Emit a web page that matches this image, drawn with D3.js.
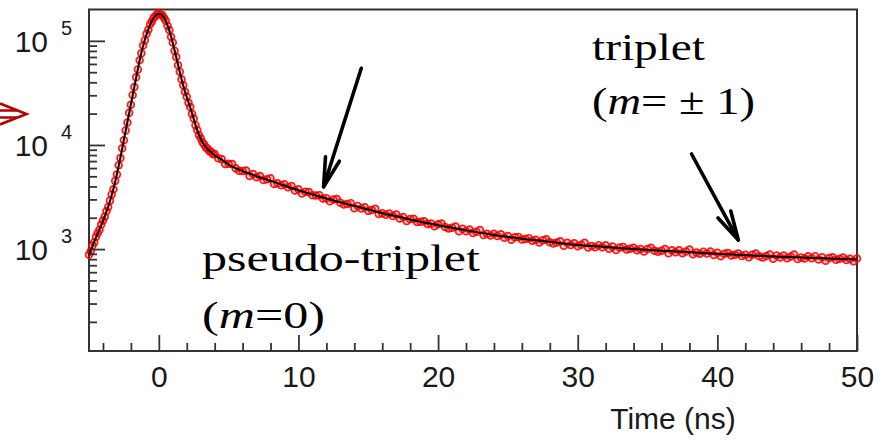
<!DOCTYPE html>
<html><head><meta charset="utf-8">
<script src="https://cdn.jsdelivr.net/npm/d3@7"></script>
<style>body{margin:0;background:#fff}svg{display:block}</style>
</head><body>
<svg id="c" width="884" height="441"></svg>
<script>
// ---------- data ----------
const xMajorTicks = [0, 10, 20, 30, 40, 50];
const xMinorTicks = [-4, -2, 2, 4, 6, 8, 12, 14, 16, 18, 22, 24, 26, 28, 32, 34, 36, 38, 42, 44, 46, 48];
const yMajorTicks = [1e3, 1e4, 1e5];
const yExponents = ["3", "4", "5"];
const yMinorTicks = [200,300,400,500,600,700,800,900,2000,3000,4000,5000,6000,7000,8000,9000,20000,30000,40000,50000,60000,70000,80000,90000];
const xTitle = "Time (ns)";

// fitted curve (black line)
const fitTime = [-5,-4.75,-4.5,-4.25,-4,-3.75,-3.5,-3.25,-3,-2.75,-2.5,-2.25,-2,-1.75,-1.5,-1.25,-1,-0.75,-0.5,-0.25,0,
  0.25,0.5,0.75,1,1.25,1.5,1.75,2,2.25,2.5,2.75,3,3.25,3.5,3.75,4,4.5,5,6,7,8,9,10,11,12,13,14,15,16,17,18,19,20,
  22,24,26,28,30,32,34,36,38,40,42,44,46,48,50];
const fitCounts = [870,1070,1290,1550,1860,2290,2880,3800,5250,7590,11220,16600,24550,36310,53700,76740,102300,128800,154900,173800,182000,
  175800,154900,125900,95500,69180,50120,37150,28840,22910,17780,13800,11480,10000,9120,8510,7940,7240,6460,5620,5010,4520,4070,3675,3350,3055,2820,2600,2400,2213,2065,1928,1799,1698,
  1514,1365,1259,1175,1096,1047,1000,966,933,902,871,851,832,813,794];

// measured points (red circles): fine bins on the rise, 0.25 ns bins on the tail
const riseTime = d3.range(-5, 3.9, 0.125);
const riseCounts = [880,955,1085,1160,1310,1430,1530,1720,1880,2040,2310,2540,2920,3350,3760,4520,5200,6380,7500,9300,
  11100,13800,16450,20400,24300,30200,36000,44600,53200,65200,76000,90000,101500,117200,127800,144300,153800,166800,172400,181200,
  183000,179500,176900,165400,156000,139400,126900,109200,96300,80500,69800,58300,50600,42700,37500,32400,29100,25400,23100,19950,
  17950,15500,13900,12450,11600,10600,10100,9450,9200,8720,8590,8140];
const tailTime = d3.range(4, 50.01, 0.25);
const tailCounts = [8178,7438,7312,6566,6589,6552,5970,5645,5620,5684,5045,5263,4910,5032,4617,4681,4791,4229,4290,4096,
  4192,3930,4025,3657,3749,3411,3545,3533,3283,3275,3296,3063,3086,2875,2994,3019,2792,2677,2705,2761,
  2470,2599,2448,2522,2328,2374,2443,2169,2213,2132,2202,2080,2148,1969,2035,1863,1947,1952,1825,1830,
  1853,1739,1765,1653,1732,1758,1634,1577,1603,1644,1480,1566,1484,1538,1431,1470,1523,1362,1400,1352,
  1406,1338,1390,1284,1337,1232,1298,1309,1234,1247,1274,1202,1228,1157,1219,1245,1163,1129,1154,1191,
  1078,1148,1094,1139,1063,1101,1149,1035,1072,1044,1091,1042,1089,1010,1056,978,1033,1049,992,1006,
  1030,976,1001,948,1003,1028,964,941,966,1000,910,973,931,974,913,946,989,892,925,903,
  945,905,946,879,920,853,903,917,868,882,905,858,880,833,883,906,852,832,856,887,
  808,866,829,869,816,847,886,801,832,812,852,817,855,795,834,774,821,835,792,806,
  828,786,807,765,810];

// annotations
const arrows = [ {from: [14.5, 54500], to: [11.8, 3970]}, {from: [38.15, 8190], to: [41.5, 1222]} ];

// ---------- drawing ----------
const L = 89, R = 857, T = 9.5, B = 351;
const svg = d3.select("#c");
const x = d3.scaleLinear().domain([-5, 50]).range([L, R]);
const y = d3.scaleLog().domain([105, 2e5]).range([B, T]);
const axisColor = "#333";
const sans = "'Liberation Sans', Arial, sans-serif";
const serif = "'Liberation Serif', 'Times New Roman', serif";

// frame
svg.append("rect").attr("x", L).attr("y", T).attr("width", R - L).attr("height", B - T)
  .attr("fill", "none").attr("stroke", axisColor).attr("stroke-width", 2);

// data points
const pts = riseTime.map((t, i) => [t, riseCounts[i]]).concat(tailTime.map((t, i) => [t, tailCounts[i]]));
svg.append("g").selectAll("circle").data(pts).join("circle")
  .attr("cx", d => x(d[0])).attr("cy", d => y(d[1])).attr("r", 3.4)
  .attr("fill", "rgba(255,0,0,0.18)").attr("stroke", "rgba(255,0,0,0.9)").attr("stroke-width", 1.7);

// fit line
const fit = fitTime.map((t, i) => [t, fitCounts[i]]);
svg.append("path").datum(fit)
  .attr("d", d3.line().x(d => x(d[0])).y(d => y(d[1])).curve(d3.curveMonotoneX))
  .attr("fill", "none").attr("stroke", "#000").attr("stroke-width", 2);

// x axis
const gx = svg.append("g").attr("transform", `translate(0,${B})`);
gx.call(d3.axisBottom(x).tickValues(xMinorTicks).tickSizeInner(-8).tickSizeOuter(0).tickFormat(""));
const gx2 = svg.append("g").attr("transform", `translate(0,${B})`);
gx2.call(d3.axisBottom(x).tickValues(xMajorTicks).tickSizeInner(-16).tickSizeOuter(0).tickPadding(15).tickFormat(d3.format("d")));
[gx, gx2].forEach(g => {
  g.select(".domain").remove();
  g.selectAll("line").attr("stroke", axisColor).attr("stroke-width", 1.8);
  g.selectAll("text").attr("font-family", sans).attr("font-size", 30).attr("fill", "#1a1a1a");
});

// y axis
const gy = svg.append("g").attr("transform", `translate(${L},0)`);
gy.call(d3.axisLeft(y).tickValues(yMinorTicks).tickSizeInner(-8).tickSizeOuter(0).tickFormat(""));
const gy2 = svg.append("g").attr("transform", `translate(${L},0)`);
gy2.call(d3.axisLeft(y).tickValues(yMajorTicks).tickSizeInner(-16).tickSizeOuter(0).tickFormat(""));
[gy, gy2].forEach(g => {
  g.select(".domain").remove();
  g.selectAll("line").attr("stroke", axisColor).attr("stroke-width", 1.8);
});
const ylab = svg.append("g").attr("font-family", sans).attr("fill", "#1a1a1a");
yMajorTicks.forEach((v, i) => {
  ylab.append("text").attr("x", 48).attr("y", y(v) + 10.7).attr("text-anchor", "end")
    .attr("font-size", 30).text("10");
  ylab.append("text").attr("x", 61).attr("y", y(v) - 5.7).attr("font-size", 20).text(yExponents[i]);
});

// axis title
svg.append("text").attr("x", 673).attr("y", 429).attr("text-anchor", "middle")
  .attr("font-family", sans).attr("font-size", 30).attr("fill", "#1a1a1a").text(xTitle);

// annotation arrows
function arrow(x1, y1, x2, y2) {
  const g = svg.append("g").attr("stroke", "#000").attr("stroke-width", 3.6)
    .attr("stroke-linecap", "round").attr("stroke-linejoin", "round").attr("fill", "none");
  g.append("line").attr("x1", x1).attr("y1", y1).attr("x2", x2).attr("y2", y2);
  const a = Math.atan2(y1 - y2, x1 - x2), len = 30, sp = 14 * Math.PI / 180;
  const p1 = [x2 + len * Math.cos(a + sp), y2 + len * Math.sin(a + sp)];
  const p2 = [x2 + len * Math.cos(a - sp), y2 + len * Math.sin(a - sp)];
  g.append("path").attr("d", `M${p1[0]},${p1[1]}L${x2},${y2}L${p2[0]},${p2[1]}`);
}
arrows.forEach(d => arrow(x(d.from[0]), y(d.from[1]), x(d.to[0]), y(d.to[1])));

// text annotations
function label(px, py, parts, len) {
  const t = svg.append("text").attr("x", px).attr("y", py).attr("font-family", serif)
    .attr("font-size", 38).attr("fill", "#000")
    .attr("textLength", len).attr("lengthAdjust", "spacingAndGlyphs");
  parts.forEach(p => t.append("tspan").attr("font-style", p[1] ? "italic" : "normal").text(p[0]));
}
label(592, 59.5, [["triplet", false]], 113);
label(592, 114, [["(", false], ["m", true], ["= \u00b1 1)", false]], 163);
label(202, 270.5, [["pseudo-triplet", false]], 278);
label(202, 328, [["(", false], ["m", true], ["=0)", false]], 123);

// red marker arrow at left edge
const ra = svg.append("g").attr("stroke", "#b30000").attr("stroke-width", 2.6).attr("fill", "none")
  .attr("stroke-linejoin", "miter");
ra.append("path").attr("d", "M0,103.5L26.5,114L0,124.5");
ra.append("path").attr("d", "M0,110.5L17,110.5M0,117.5L17,117.5");
</script>
</body></html>
